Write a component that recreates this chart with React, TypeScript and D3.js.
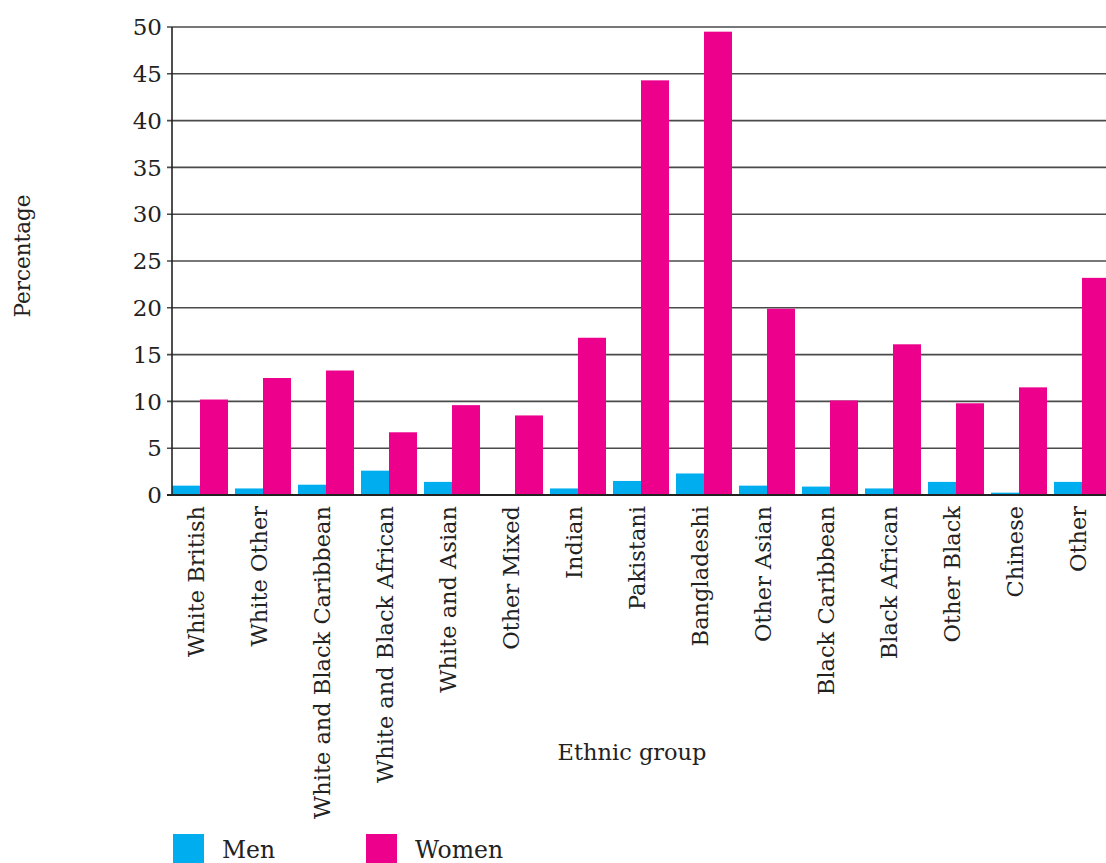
import React from "react";
import * as d3 from "d3";

const categories = [
  "White British", "White Other", "White and Black Caribbean", "White and Black African",
  "White and Asian", "Other Mixed", "Indian", "Pakistani", "Bangladeshi", "Other Asian",
  "Black Caribbean", "Black African", "Other Black", "Chinese", "Other",
];
const menValues = [1.0, 0.7, 1.1, 2.6, 1.4, 0, 0.7, 1.5, 2.3, 1.0, 0.9, 0.7, 1.4, 0.25, 1.4];
const womenValues = [10.2, 12.5, 13.3, 6.7, 9.6, 8.5, 16.8, 44.3, 49.5, 19.9, 10.1, 16.1, 9.8, 11.5, 23.2];
const yTicks = [0, 5, 10, 15, 20, 25, 30, 35, 40, 45, 50];
const seriesNames = ["Men", "Women"];
const colors = ["#00AEEF", "#EC008C"];

const W = 1106, H = 863;
const left = 172, top = 27, bottom = 495;
const step = 63, gap = 7;
const font = "'DejaVu Serif', Georgia, serif";

export default function App() {
  const x0 = d3.scaleBand<string>()
    .domain(categories)
    .range([left, left + step * categories.length - gap])
    .paddingInner(gap / step)
    .paddingOuter(0);
  const xs = d3.scaleBand<string>().domain(seriesNames).range([0, x0.bandwidth()]).padding(0);
  const y = d3.scaleLinear().domain([0, 50]).range([bottom, top]);
  return (
    <svg width={W} height={H} style={{ position: "absolute", left: 0, top: 0, background: "#fff" }} fontFamily={font}>
      {yTicks.map((t) => (
        <g key={t}>
          <line x1={left - 5} x2={W} y1={y(t)} y2={y(t)} stroke={t === 0 ? "#222" : "#4a4a4a"} strokeWidth={t === 0 ? 2 : 1.6} />
          <text x={162} y={y(t)} dy="0.36em" textAnchor="end" fontSize={23} fill="#222">{t}</text>
        </g>
      ))}
      {categories.map((c, i) => (
        <g key={c}>
          <rect x={x0(c)! + xs("Men")!} y={y(menValues[i])} width={xs.bandwidth()} height={bottom - y(menValues[i])} fill={colors[0]} />
          <rect x={x0(c)! + xs("Women")!} y={y(womenValues[i])} width={xs.bandwidth()} height={bottom - y(womenValues[i])} fill={colors[1]} />
        </g>
      ))}
      <line x1={left} x2={left} y1={top} y2={bottom} stroke="#222" strokeWidth={1.6} />
      <line x1={left} x2={W} y1={bottom} y2={bottom} stroke="#222" strokeWidth={2} />
      {categories.map((c) => {
        const cx = x0(c)! + x0.bandwidth() / 2 - 4;
        return (
          <text key={c} transform={`translate(${cx},${506}) rotate(-90)`} textAnchor="end" dy="0.35em" fontSize={22.5} fill="#222">{c}</text>
        );
      })}
      <text transform="translate(22,256) rotate(-90)" textAnchor="middle" dy="0.35em" fontSize={21.5} fill="#222">Percentage</text>
      <text x={632} y={752} textAnchor="middle" dy="0.35em" fontSize={22.5} fill="#222">Ethnic group</text>
      {seriesNames.map((s, i) => (
        <g key={s} transform={`translate(${173 + i * 193},834)`}>
          <rect x={0} y={0} width={31} height={29} fill={colors[i]} />
          <text x={49} y={24} fontSize={23.5} fill="#222">{s}</text>
        </g>
      ))}
    </svg>
  );
}
